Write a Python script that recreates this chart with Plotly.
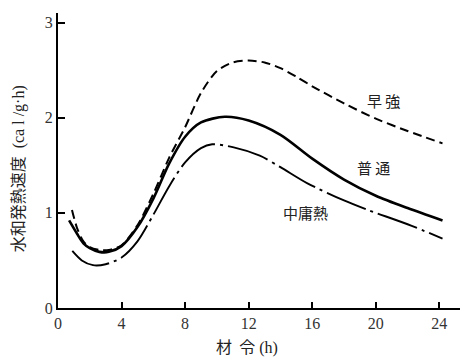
import plotly.graph_objects as go

# 早強 (early strength) - dashed
x_early = [0.88, 1.2, 1.6, 2.0, 2.6, 3.2, 4.0, 5.0, 6.0, 7.0, 8.0, 9.0, 10.0, 11.0, 12.0, 13.0, 14.0, 15.0, 16.0, 18.0, 20.0, 22.0, 24.2]
y_early = [1.03, 0.84, 0.70, 0.64, 0.61, 0.61, 0.66, 0.87, 1.20, 1.58, 1.90, 2.26, 2.49, 2.58, 2.60, 2.58, 2.52, 2.43, 2.33, 2.15, 1.99, 1.86, 1.73]

# 普通 (ordinary) - solid
x_norm = [0.7, 1.2, 1.6, 2.0, 2.6, 3.2, 4.0, 5.0, 6.0, 7.0, 8.0, 9.0, 10.5, 12.0, 14.0, 16.0, 18.0, 20.0, 22.0, 24.2]
y_norm = [0.92, 0.78, 0.68, 0.63, 0.59, 0.59, 0.65, 0.85, 1.15, 1.52, 1.80, 1.95, 2.01, 1.97, 1.82, 1.57, 1.35, 1.18, 1.05, 0.92]

# 中庸熱 (moderate heat) - dash-dot
x_mod = [0.9, 1.5, 2.2, 3.0, 4.0, 5.0, 6.0, 7.0, 8.0, 9.0, 9.7, 11.0, 12.7, 14.0, 15.7, 18.0, 19.5, 22.0, 24.2]
y_mod = [0.60, 0.50, 0.45, 0.46, 0.53, 0.70, 0.98, 1.28, 1.53, 1.68, 1.72, 1.69, 1.60, 1.48, 1.31, 1.13, 1.03, 0.88, 0.73]

x_ticks = [0, 4, 8, 12, 16, 20, 24]
y_ticks = [0, 1, 2, 3]

labels = ["早&nbsp;強", "普&nbsp;通", "中庸熱"]
label_x = [20.5, 19.85, 15.55]
label_y = [2.18, 1.48, 1.00]

serif = "Liberation Serif, Times New Roman, serif"
cjk = "Noto Sans CJK JP"

fig = go.Figure()
fig.add_trace(go.Scatter(x=x_early, y=y_early, mode="lines",
                         line=dict(color="black", width=2, dash="9px,5px", shape="spline", smoothing=0.8)))
fig.add_trace(go.Scatter(x=x_norm, y=y_norm, mode="lines",
                         line=dict(color="black", width=2.6, shape="spline", smoothing=0.8)))
fig.add_trace(go.Scatter(x=x_mod, y=y_mod, mode="lines",
                         line=dict(color="black", width=1.9, dash="42px,5px,3px,5px", shape="spline", smoothing=0.8)))

for t, lx, ly in zip(labels, label_x, label_y):
    fig.add_annotation(x=lx, y=ly, text=t, showarrow=False,
                       font=dict(family=cjk, size=15, color="#222"))

fig.add_annotation(x=11.9, y=0, yref="paper", yshift=-38, yanchor="middle", xanchor="center",
                   text="<span style='font-family:Noto Sans CJK JP'>材&nbsp;&nbsp;令</span>&nbsp;(h)",
                   showarrow=False, font=dict(family=serif, size=16, color="#222"))
fig.add_annotation(x=0, xref="paper", xshift=-41, xanchor="center", y=0.47, yref="paper",
                   yanchor="middle",
                   text="<span style='font-family:Noto Sans CJK JP'>水和発熱速度</span>&nbsp;&nbsp;(ca&nbsp;l&nbsp;/g·h)",
                   textangle=-90, showarrow=False,
                   font=dict(family=serif, size=16, color="#222"))

tick_font = dict(family=serif, size=16, color="#333")
fig.update_layout(
    width=474, height=359,
    margin=dict(l=58, r=14, t=13, b=51),
    paper_bgcolor="white", plot_bgcolor="white",
    showlegend=False,
    font=dict(family=serif, size=15, color="#333"),
)
fig.update_xaxes(range=[0, 25.3], tickvals=x_ticks, ticks="inside", ticklen=6, tickwidth=1.5,
                 tickcolor="black", showline=True, linecolor="black", linewidth=2,
                 showgrid=False, zeroline=False, tickfont=tick_font)
fig.update_yaxes(range=[0, 3.1], tickvals=y_ticks, ticks="inside", ticklen=7, tickwidth=1.5,
                 tickcolor="black", showline=True, linecolor="black", linewidth=2,
                 showgrid=False, zeroline=False, tickfont=tick_font)

fig.write_html("out.html")
